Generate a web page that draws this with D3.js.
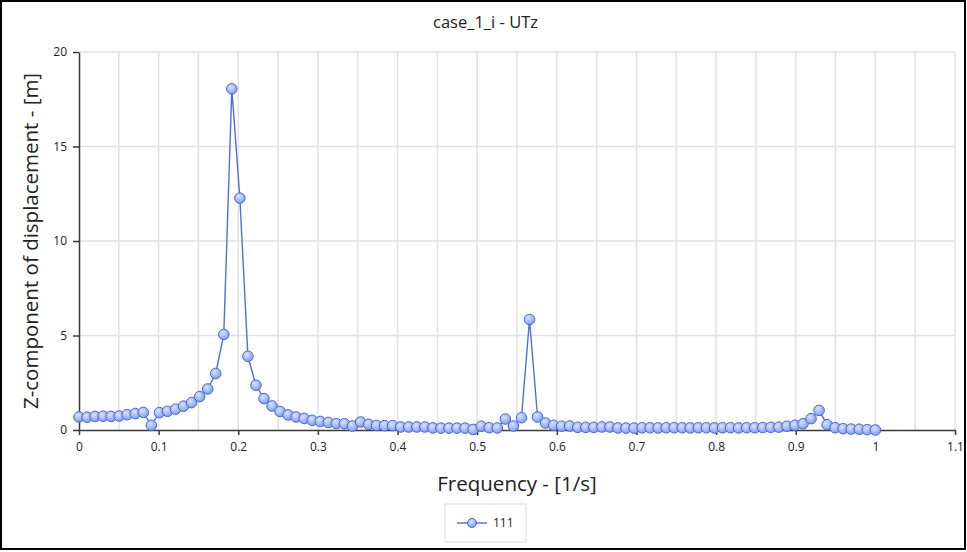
<!DOCTYPE html>
<html>
<head>
<meta charset="utf-8">
<script src="https://cdn.jsdelivr.net/npm/d3@7"></script>
<style>
  html, body { margin: 0; padding: 0; background: #fff; }
  svg { display: block; font-family: "Open Sans", "Noto Sans", sans-serif; }
</style>
</head>
<body>
<script>
// Data

const frequency = [
  0, 0.0101, 0.0202, 0.0303, 0.0404, 0.0505, 0.0606, 0.0707, 0.0808, 0.0909,
  0.1010, 0.1111, 0.1212, 0.1313, 0.1414, 0.1515, 0.1616, 0.1717, 0.1818, 0.1919,
  0.2020, 0.2121, 0.2222, 0.2323, 0.2424, 0.2525, 0.2626, 0.2727, 0.2828, 0.2929,
  0.3030, 0.3131, 0.3232, 0.3333, 0.3434, 0.3535, 0.3636, 0.3737, 0.3838, 0.3939,
  0.4040, 0.4141, 0.4242, 0.4343, 0.4444, 0.4545, 0.4646, 0.4747, 0.4848, 0.4949,
  0.5051, 0.5152, 0.5253, 0.5354, 0.5455, 0.5556, 0.5657, 0.5758, 0.5859, 0.5960,
  0.6061, 0.6162, 0.6263, 0.6364, 0.6465, 0.6566, 0.6667, 0.6768, 0.6869, 0.6970,
  0.7071, 0.7172, 0.7273, 0.7374, 0.7475, 0.7576, 0.7677, 0.7778, 0.7879, 0.7980,
  0.8081, 0.8182, 0.8283, 0.8384, 0.8485, 0.8586, 0.8687, 0.8788, 0.8889, 0.8990,
  0.9091, 0.9192, 0.9293, 0.9394, 0.9495, 0.9596, 0.9697, 0.9798, 0.9899, 1.0
]

const displacement = [
  0.69, 0.68, 0.72, 0.73, 0.72, 0.74, 0.81, 0.87, 0.93, 0.25,
  0.92, 0.99, 1.10, 1.26, 1.45, 1.77, 2.17, 2.99, 5.06, 18.05,
  12.27, 3.90, 2.37, 1.66, 1.27, 0.98, 0.80, 0.69, 0.61, 0.51,
  0.45, 0.40, 0.34, 0.33, 0.21, 0.42, 0.30, 0.24, 0.23, 0.23,
  0.16, 0.16, 0.16, 0.16, 0.11, 0.10, 0.10, 0.10, 0.10, 0.03,
  0.20, 0.12, 0.11, 0.58, 0.21, 0.65, 5.85, 0.69, 0.37, 0.25,
  0.20, 0.21, 0.14, 0.14, 0.14, 0.16, 0.16, 0.11, 0.10, 0.10,
  0.12, 0.12, 0.11, 0.12, 0.12, 0.12, 0.11, 0.12, 0.12, 0.11,
  0.12, 0.12, 0.11, 0.12, 0.12, 0.13, 0.14, 0.15, 0.20, 0.25,
  0.33, 0.60, 1.04, 0.28, 0.12, 0.07, 0.05, 0.04, 0.02, 0.00
]

const xTicks = [0, 0.1, 0.2, 0.3, 0.4, 0.5, 0.6, 0.7, 0.8, 0.9, 1, 1.1]
const xGrid = [0.05, 0.1, 0.15, 0.2, 0.25, 0.3, 0.35, 0.4, 0.45, 0.5, 0.55,
  0.6, 0.65, 0.7, 0.75, 0.8, 0.85, 0.9, 0.95, 1, 1.05, 1.1]
const yTicks = [0, 5, 10, 15, 20]

const title = "case_1_i - UTz"
const xLabel = "Frequency - [1/s]"
const yLabel = "Z-component of displacement - [m]"
const seriesName = "111"

// Dimensions
const width = 967
const height = 552
const margin = { top: 52, right: 12, bottom: 122, left: 79 }
const plotWidth = width - margin.left - margin.right
const plotHeight = height - margin.top - margin.bottom

const svg = d3
  .select("body")
  .append("svg")
  .attr("width", width)
  .attr("height", height)

// Marker fill
const grad = svg.append("defs")
  .append("radialGradient")
  .attr("id", "dot")
  .attr("cx", "40%")
  .attr("cy", "35%")
  .attr("r", "65%")
grad.append("stop").attr("offset", "0%").attr("stop-color", "#dbe3fd")
grad.append("stop").attr("offset", "100%").attr("stop-color", "#7f9cf1")

// Frame round the picture
svg
  .append("rect")
  .attr("x", 1)
  .attr("y", 1)
  .attr("width", width - 3)
  .attr("height", height - 4)
  .style("fill", "#fff")
  .style("stroke", "#000")
  .style("stroke-width", 2)

// Scales
const x = d3.scaleLinear().domain([0, 1.1]).range([0, plotWidth])
const y = d3.scaleLinear().domain([0, 20]).range([plotHeight, 0])

const plot = svg
  .append("g")
  .attr("transform", `translate(${margin.left}, ${margin.top})`)

// Grid
plot
  .append("g")
  .selectAll("line")
  .data(xGrid)
  .join("line")
  .attr("x1", d => x(d))
  .attr("x2", d => x(d))
  .attr("y1", 0)
  .attr("y2", plotHeight)
  .style("stroke", "#e2e2e2")
  .style("stroke-width", 1.5)

plot
  .append("g")
  .selectAll("line")
  .data(yTicks.slice(1))
  .join("line")
  .attr("x1", 0)
  .attr("x2", plotWidth)
  .attr("y1", d => y(d))
  .attr("y2", d => y(d))
  .style("stroke", "#e2e2e2")
  .style("stroke-width", 1.5)

// Axes
const axisX = plot
  .append("g")
  .attr("transform", `translate(0, ${plotHeight})`)
  .call(
    d3.axisBottom(x)
      .tickValues(xTicks)
      .tickFormat(d3.format("~g"))
      .tickSizeInner(5)
      .tickSizeOuter(0)
  )

const axisY = plot
  .append("g")
  .call(
    d3.axisLeft(y)
      .tickValues(yTicks)
      .tickSizeInner(6)
      .tickSizeOuter(0)
  )

;[axisX, axisY].forEach(g => {
  g.selectAll(".domain, line").style("stroke", "#3a3a3a").style("stroke-width", 1.5)
  g.selectAll("text")
    .style("font-family", "'Open Sans', sans-serif")
    .style("font-size", "12px")
    .style("fill", "#222")
})
axisX.selectAll("text").attr("dy", "1.05em")
axisY.selectAll("text").attr("x", -12)

// Line + markers
const points = frequency.map((f, i) => ({ f, v: displacement[i] }))

plot
  .append("path")
  .datum(points)
  .attr("d", d3.line().x(d => x(d.f)).y(d => y(d.v)))
  .style("fill", "none")
  .style("stroke", "#4f70dc")
  .style("stroke-width", 1.4)

plot
  .append("g")
  .selectAll("circle")
  .data(points)
  .join("circle")
  .attr("cx", d => x(d.f))
  .attr("cy", d => y(d.v))
  .attr("r", 5.3)
  .style("fill", "url(#dot)")
  .style("stroke", "#4a69d6")
  .style("stroke-width", 1)

// Title
svg
  .append("text")
  .attr("x", width / 2 + 2)
  .attr("y", 28)
  .attr("text-anchor", "middle")
  .style("font-size", "16.5px")
  .style("fill", "#222")
  .text(title)

// Axis labels
svg
  .append("text")
  .attr("x", margin.left + plotWidth / 2)
  .attr("y", 491)
  .attr("text-anchor", "middle")
  .style("font-size", "20.5px")
  .style("fill", "#222")
  .text(xLabel)

svg
  .append("text")
  .attr("transform", `translate(38, ${margin.top + plotHeight / 2}) rotate(-90)`)
  .attr("text-anchor", "middle")
  .style("font-size", "20.5px")
  .style("fill", "#222")
  .text(yLabel)

// Legend
const legend = svg.append("g").attr("transform", "translate(445, 504)")

legend
  .append("rect")
  .attr("width", 81)
  .attr("height", 38)
  .style("fill", "#fff")
  .style("stroke", "#dcdcdc")

legend
  .append("line")
  .attr("x1", 12)
  .attr("x2", 42)
  .attr("y1", 19)
  .attr("y2", 19)
  .style("stroke", "#4f70dc")
  .style("stroke-width", 1.4)

legend
  .append("circle")
  .attr("cx", 27)
  .attr("cy", 19)
  .attr("r", 4.5)
  .style("fill", "url(#dot)")
  .style("stroke", "#4a69d6")

legend
  .append("text")
  .attr("x", 48)
  .attr("y", 23)
  .style("font-size", "12px")
  .style("fill", "#222")
  .text(seriesName)
</script>
</body>
</html>
